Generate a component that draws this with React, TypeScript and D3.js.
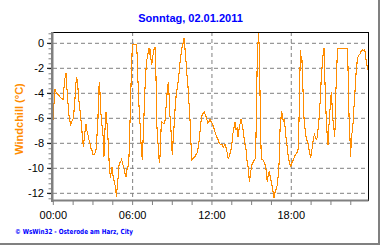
import React from "react";
import * as d3 from "d3";

const title = "Sonntag, 02.01.2011";
const yLabel = "Windchill (°C)";
const footer = "© WsWin32  -  Osterode am Harz, City";
const yTicks = [0, -2, -4, -6, -8, -10, -12];
const xTickHours = [0, 6, 12, 18];
const xTickLabels = ["00:00", "06:00", "12:00", "18:00"];

const hours = [
  0, 0.05, 0.13, 0.25, 0.38, 0.5, 0.63, 0.76, 0.81, 0.88, 0.96, 1.01, 1.13, 1.21, 1.31, 1.39, 1.51, 1.56, 1.64, 1.71,
  1.76, 1.84, 1.89, 1.97, 2.07, 2.14, 2.22, 2.27, 2.34, 2.42, 2.47, 2.52, 2.6, 2.67, 2.77, 2.85, 2.92, 2.98, 3.08, 3.15,
  3.23, 3.28, 3.33, 3.38, 3.43, 3.48, 3.53, 3.58, 3.66, 3.73, 3.78, 3.83, 3.88, 3.93, 3.98, 4.03, 4.08, 4.16, 4.24, 4.29,
  4.34, 4.39, 4.44, 4.49, 4.54, 4.61, 4.66, 4.72, 4.77, 4.82, 4.89, 4.94, 4.99, 5.09, 5.17, 5.24, 5.35, 5.42, 5.5, 5.57,
  5.65, 5.72, 5.77, 5.82, 5.87, 5.93, 5.98, 6.3, 6.35, 6.4, 6.45, 6.51, 6.56, 6.61, 6.68, 6.73, 6.78, 6.83, 6.88, 6.93,
  6.98, 7.03, 7.11, 7.19, 7.24, 7.29, 7.34, 7.39, 7.44, 7.51, 7.56, 7.64, 7.69, 7.74, 7.79, 7.84, 7.92, 8.02, 8.07, 8.15,
  8.22, 8.32, 8.42, 8.47, 8.52, 8.58, 8.63, 8.7, 8.75, 8.83, 8.9, 8.95, 9.0, 9.05, 9.13, 9.21, 9.28, 9.36, 9.43, 9.51,
  9.59, 9.66, 9.74, 9.81, 9.89, 9.96, 10.04, 10.11, 10.19, 10.27, 10.34, 10.39, 10.44, 10.49, 10.59, 10.69, 10.8, 10.9, 11.0, 11.05,
  11.12, 11.2, 11.27, 11.35, 11.42, 11.5, 11.6, 11.68, 11.75, 11.85, 11.95, 12.03, 12.11, 12.18, 12.26, 12.36, 12.46, 12.56, 12.66, 12.76,
  12.86, 12.99, 13.06, 13.14, 13.22, 13.29, 13.37, 13.44, 13.52, 13.59, 13.67, 13.75, 13.82, 13.9, 13.97, 14.05, 14.13, 14.2, 14.28, 14.35,
  14.43, 14.5, 14.58, 14.63, 14.68, 14.75, 14.8, 14.85, 14.9, 14.98, 15.05, 15.13, 15.21, 15.29, 15.33, 15.38, 15.43, 15.48, 15.53, 15.59,
  15.64, 15.69, 15.74, 15.84, 15.94, 16.01, 16.09, 16.14, 16.19, 16.27, 16.34, 16.42, 16.49, 16.57, 16.64, 16.69, 16.74, 16.79, 16.84, 16.9,
  16.95, 17.0, 17.05, 17.1, 17.15, 17.2, 17.25, 17.3, 17.35, 17.4, 17.45, 17.53, 17.6, 17.65, 17.7, 17.78, 17.85, 17.9, 17.96, 18.01,
  18.08, 18.16, 18.23, 18.31, 18.41, 18.51, 18.56, 18.61, 18.66, 18.71, 18.76, 18.81, 18.86, 18.91, 18.96, 19.01, 19.06, 19.12, 19.17, 19.22,
  19.29, 19.34, 19.42, 19.47, 19.52, 19.59, 19.64, 19.69, 19.75, 19.82, 19.87, 19.92, 19.97, 20.02, 20.07, 20.12, 20.17, 20.22, 20.28, 20.33,
  20.38, 20.43, 20.48, 20.53, 20.58, 20.63, 20.68, 20.73, 20.78, 20.83, 20.88, 20.93, 20.98, 21.03, 21.08, 21.13, 21.18, 21.23, 21.28, 21.33,
  21.38, 21.44, 21.49, 22.24, 22.29, 22.34, 22.39, 22.44, 22.49, 22.54, 22.59, 22.64, 22.69, 22.74, 22.8, 22.85, 22.9, 22.95, 23.0, 23.08,
  23.15, 23.23, 23.3, 23.38, 23.45, 23.55, 23.6, 23.65, 23.7, 23.75, 23.8,
];

const windchill = [
  -6.1, -4.9, -3.7, -4.0, -4.1, -4.3, -4.4, -4.5, -3.5, -2.8, -2.4, -3.3, -5.1, -6.0, -6.5, -6.3, -6.0, -5.5, -4.4, -3.2,
  -2.7, -3.1, -4.1, -4.9, -5.9, -6.7, -7.7, -8.3, -7.6, -6.9, -6.5, -6.9, -7.2, -7.6, -8.0, -8.4, -8.5, -8.9, -8.9, -8.8,
  -8.5, -7.9, -6.9, -5.9, -4.0, -3.1, -3.9, -5.3, -6.4, -6.9, -7.7, -9.1, -7.7, -6.4, -5.5, -5.9, -6.7, -8.0, -9.9, -10.4,
  -10.8, -10.1, -9.9, -10.4, -10.7, -11.1, -11.3, -11.6, -12.3, -11.7, -10.9, -10.1, -9.6, -9.5, -9.3, -9.6, -10.0, -10.4, -10.7, -10.1,
  -9.9, -9.2, -7.5, -5.6, -3.6, -1.6, -0.1, -0.1, -1.1, -2.9, -4.3, -5.6, -6.4, -7.6, -8.7, -9.3, -8.0, -6.7, -5.1, -3.7,
  -2.7, -1.7, -1.1, -0.7, -0.4, -0.9, -0.5, -1.3, -1.7, -1.2, -0.8, -0.4, -0.3, -1.3, -3.9, -6.7, -8.0, -9.6, -9.1, -6.9,
  -6.3, -6.4, -6.4, -6.0, -5.2, -4.4, -3.6, -3.1, -4.0, -5.9, -6.9, -8.0, -8.9, -8.0, -6.7, -5.3, -4.3, -3.7, -3.2, -2.4,
  -1.5, -0.9, -0.3, 0, 0.4, -0.4, -1.5, -2.5, -3.5, -4.9, -6.1, -7.5, -8.5, -9.3, -9.2, -9.1, -8.9, -8.7, -8.1, -7.6,
  -6.8, -6.0, -5.7, -5.6, -5.5, -5.7, -6.0, -6.4, -6.3, -6.1, -6.3, -6.4, -6.7, -6.9, -7.2, -7.5, -7.7, -8.0, -8.1, -8.1,
  -8.3, -8.1, -8.3, -8.7, -9.2, -9.1, -8.8, -8.5, -7.9, -7.2, -6.7, -6.3, -6.9, -6.8, -7.5, -6.9, -6.4, -6.1, -6.5, -6.9,
  -7.6, -8.1, -8.5, -9.2, -9.6, -10.0, -10.7, -11.1, -10.4, -10.0, -9.6, -9.5, -9.3, -9.2, -7.5, -4.3, -1.1, 0, 0.8, -0.8,
  -4.3, -7.5, -9.3, -9.3, -9.5, -9.7, -10.1, -10.7, -11.1, -10.4, -10.3, -10.7, -11.1, -11.5, -12.0, -12.4, -12.0, -11.9, -11.7, -11.5,
  -11.3, -10.7, -10.1, -9.1, -6.9, -6.4, -5.5, -5.6, -5.9, -6.3, -6.1, -6.7, -7.5, -7.9, -8.4, -9.1, -9.5, -9.7, -9.9, -9.6,
  -9.5, -9.3, -9.1, -8.9, -8.8, -8.5, -7.5, -4.8, -2.1, -0.5, -1.6, -1.3, -2.9, -4.5, -5.9, -6.7, -6.9, -7.5, -7.7, -7.9,
  -8.1, -8.5, -8.9, -9.2, -8.8, -8.3, -7.9, -7.5, -7.3, -7.5, -7.6, -7.7, -7.5, -6.9, -6.5, -5.7, -4.9, -4.0, -2.4, -1.9,
  -1.1, -0.8, -0.4, -2.4, -4.3, -5.6, -6.7, -7.5, -8.1, -6.9, -6.1, -5.3, -4.5, -3.9, -4.8, -5.9, -6.4, -6.9, -7.5, -6.4,
  -3.7, -2.1, -0.4, -0.4, -1.9, -4.5, -6.7, -7.6, -9.1, -7.7, -7.2, -6.9, -6.1, -5.1, -4.3, -3.2, -2.4, -1.9, -1.2, -1.0,
  -0.9, -0.8, -0.6, -0.5, -0.6, -0.5, -0.8, -1.3, -1.6, -1.9, -2.1,
];

const W = 380;
const H = 245;
const plotLeft = 53;
const plotRight = 368;
const plotTop = 32;
const plotBottom = 200.5;

export default function App() {
  const x = d3.scaleLinear().domain([0, 24]).range([53.3, 370.6]);
  const y = d3.scaleLinear().domain([0, -12]).range([43.3, 193.3]);

  const data = hours.map((h, i) => [h, windchill[i]] as [number, number]);
  const line = d3
    .line<[number, number]>()
    .x((d) => x(d[0]))
    .y((d) => y(d[1]))
    .curve(d3.curveLinear);

  const minorY = d3.range(0, 34).map((i) => 0.8 - i * 0.4);
  const minorX = d3.range(0, 17).map((i) => i * 1.5);

  const font = "Arial, 'Liberation Sans', sans-serif";

  return (
    <svg
      width={W}
      height={H}
      style={{ position: "absolute", left: 0, top: 0, background: "#fff" }}
      fontFamily={font}
    >
      <defs>
        <clipPath id="plotClip">
          <rect x={plotLeft} y={plotTop} width={plotRight - plotLeft} height={plotBottom - plotTop} />
        </clipPath>
      </defs>
      <rect x={0} y={0} width={W} height={H} fill="#fff" />
      {/* outer shadow frame */}
      <rect x={378} y={0} width={2} height={H} fill="#808080" />
      <rect x={0} y={243} width={W} height={2} fill="#808080" />

      {/* title */}
      <text x={190.5} y={21.5} textAnchor="middle" fontSize={11} fontWeight="bold" fill="#0000ff">
        {title}
      </text>

      {/* grid */}
      {yTicks.map((v) => (
        <line
          key={"gy" + v}
          x1={plotLeft}
          x2={plotRight}
          y1={y(v)}
          y2={y(v)}
          stroke="#808080"
          strokeWidth={1}
          strokeDasharray="4,3"
        />
      ))}
      {xTickHours.slice(1).map((h) => (
        <line
          key={"gx" + h}
          x1={x(h)}
          x2={x(h)}
          y1={plotTop}
          y2={plotBottom}
          stroke="#808080"
          strokeWidth={1}
          strokeDasharray="4,3"
        />
      ))}

      {/* plot border top/right */}
      <line x1={51.5} x2={368.5} y1={32.5} y2={32.5} stroke="#000" strokeWidth={1} />
      <line x1={368.5} x2={368.5} y1={32} y2={201} stroke="#000" strokeWidth={1} />

      {/* data line */}
      <path
        d={line(data) || ""}
        fill="none"
        stroke="#ff8c00"
        strokeWidth={1.1}
        shapeRendering="crispEdges"
        clipPath="url(#plotClip)"
      />

      {/* y axis */}
      <rect x={51} y={32} width={2.5} height={170} fill="#808080" />
      {minorY.map((v, i) => (
        <line key={"my" + i} x1={48.5} x2={51} y1={y(v) + 0.5} y2={y(v) + 0.5} stroke="#808080" strokeWidth={1} />
      ))}
      {yTicks.map((v) => (
        <g key={"ty" + v}>
          <line x1={47} x2={51} y1={y(v)} y2={y(v)} stroke="#000" strokeWidth={1} />
          <text x={44} y={y(v) + 4} textAnchor="end" fontSize={11} fill="#000">
            {v}
          </text>
        </g>
      ))}
      <text
        transform="translate(22.5,119) rotate(-90)"
        textAnchor="middle"
        fontSize={11}
        fontWeight="bold"
        fill="#ff8c00"
      >
        {yLabel}
      </text>

      {/* x axis */}
      <rect x={51} y={199.5} width={317.5} height={2} fill="#808080" />
      {minorX.map((h, i) =>
        x(h) <= plotRight ? (
          <line key={"mx" + i} x1={x(h)} x2={x(h)} y1={201} y2={205} stroke="#808080" strokeWidth={1} />
        ) : null
      )}
      {xTickHours.map((h, i) => (
        <text key={"tx" + h} x={x(h)} y={219} textAnchor="middle" fontSize={11} fill="#000">
          {xTickLabels[i]}
        </text>
      ))}

      {/* footer */}
      <text
        x={15}
        y={233.5}
        fontSize={7}
        fontWeight="bold"
        fill="#0000ff"
        fontFamily="Verdana, 'DejaVu Sans', sans-serif"
        textLength={118}
        lengthAdjust="spacingAndGlyphs"
      >
        {footer}
      </text>
    </svg>
  );
}
